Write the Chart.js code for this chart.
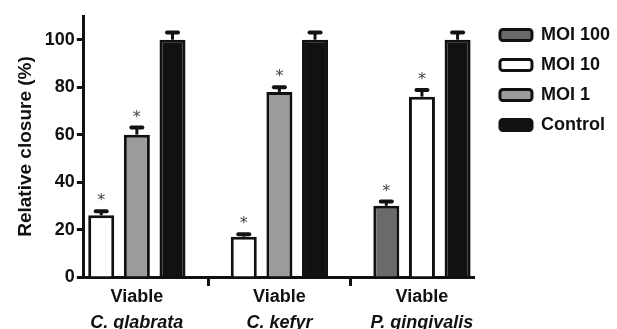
<!DOCTYPE html>
<html>
<head>
<meta charset="utf-8">
<script src="https://cdn.jsdelivr.net/npm/chart.js@4"></script>
<style>
  html, body { margin: 0; padding: 0; background: #fff; }
  #wrap { width: 617px; height: 329px; }
</style>
</head>
<body>
<div id="wrap"><canvas id="chart"></canvas></div>
<script>
// groups on the x axis (two text lines each)
var GROUP_TOP = ["Viable", "Viable", "Viable"];
var GROUP_SPECIES = ["C. glabrata", "C. kefyr", "P. gingivalis"];

// series values (relative closure, %)
var SERIES = ["MOI 100", "MOI 10", "MOI 1", "Control"];
var moi100 = [null, null, 30];
var moi10 = [26, 17, 76];
var moi1 = [60, 78, null];
var control = [100, 100, 100];

// error bars (SEM, up only)
var moi100Err = [null, null, 1.8];
var moi10Err = [1.7, 1, 2.8];
var moi1Err = [3, 2, null];
var controlErr = [3, 3, 3];

// significance stars
var moi100Sig = [false, false, true];
var moi10Sig = [true, true, true];
var moi1Sig = [true, true, false];
var controlSig = [false, false, false];

var Y_TICKS = [0, 20, 40, 60, 80, 100];

var INK = "#111";
var FONT = "'Liberation Sans', Arial, sans-serif";

// tick values: group centres plus separators between groups
var xTicks = [];
GROUP_TOP.forEach(function (g, i) {
	if (i > 0) xTicks.push(i - 0.5);
	xTicks.push(i);
});

function setXTicks(scale) {
	scale.ticks = xTicks.map(function (v) { return { value: v }; });
}

function isGroupTick(c) {
	return !c.tick || Number.isInteger(c.tick.value);
}

var errorBars = {
	id: "errorBars",
	afterDatasetsDraw: function (chart) {
		var ctx = chart.ctx;
		var yScale = chart.scales.y;
		ctx.save();
		chart.data.datasets.forEach(function (ds, di) {
			var meta = chart.getDatasetMeta(di);
			meta.data.forEach(function (bar, i) {
				var v = ds.data[i];
				if (v === null) return;
				var err = ds.errors[i] || 0;
				var yTop = yScale.getPixelForValue(v + err);
				ctx.strokeStyle = INK;
				ctx.lineWidth = 3;
				ctx.beginPath();
				ctx.moveTo(bar.x, bar.y);
				ctx.lineTo(bar.x, yTop);
				ctx.stroke();
				// cap
				ctx.lineWidth = 4;
				ctx.lineCap = "round";
				ctx.beginPath();
				ctx.moveTo(bar.x - 5.5, yTop);
				ctx.lineTo(bar.x + 5.5, yTop);
				ctx.stroke();
				ctx.lineCap = "butt";
				if (ds.sig[i]) {
					ctx.fillStyle = "#444";
					ctx.font = "16px 'DejaVu Sans', sans-serif";
					ctx.textAlign = "center";
					ctx.textBaseline = "middle";
					ctx.fillText("*", bar.x, yTop - 10);
				}
			});
		});
		ctx.restore();
	}
};

// move the legend into the right margin, as in the figure
var legendNudge = {
	id: "legendNudge",
	afterLayout: function (chart) {
		var lg = chart.legend;
		if (!lg) return;
		lg.left += 13;
		lg.right += 13;
		lg.top -= 2;
		lg.bottom -= 2;
	}
};

new Chart(document.getElementById("chart"), {
	type: "bar",
	data: {
		labels: GROUP_TOP.map(function (g, i) { return i; }),
		datasets: [
			{ label: SERIES[0], data: moi100, errors: moi100Err, sig: moi100Sig, backgroundColor: "#6a6a6a" },
			{ label: SERIES[1], data: moi10, errors: moi10Err, sig: moi10Sig, backgroundColor: "#ffffff" },
			{ label: SERIES[2], data: moi1, errors: moi1Err, sig: moi1Sig, backgroundColor: "#9b9b9b" },
			{ label: SERIES[3], data: control, errors: controlErr, sig: controlSig, backgroundColor: INK }
		]
	},
	options: {
		responsive: true,
		maintainAspectRatio: false,
		animation: false,
		layout: { padding: { left: 14, top: 16, right: 10, bottom: 0 } },
		datasets: {
			bar: {
				skipNull: true,
				categoryPercentage: 1.5,
				barPercentage: 0.73,
				borderColor: INK,
				borderWidth: 3,
				borderSkipped: "bottom"
			}
		},
		scales: {
			x: {
				type: "linear",
				offset: false,
				min: -0.372,
				max: 2.372,
				afterBuildTicks: setXTicks,
				afterFit: function (s) { s.height = 27; },
				grid: {
					offset: false,
					drawOnChartArea: false,
					tickLength: 9,
					tickWidth: 3,
					tickColor: function (c) { return isGroupTick(c) ? "rgba(0,0,0,0)" : INK; }
				},
				border: { color: INK, width: 3 },
				ticks: {
					autoSkip: false,
					maxRotation: 0,
					padding: 0,
					color: INK,
					font: { family: FONT, size: 18, weight: "bold" },
					callback: function (v) { return Number.isInteger(v) ? GROUP_TOP[v] : ""; }
				}
			},
			x2: {
				type: "linear",
				position: "bottom",
				axis: "x",
				offset: false,
				min: -0.372,
				max: 2.372,
				afterBuildTicks: setXTicks,
				afterFit: function (s) { s.height = 25; },
				grid: { display: false, offset: false },
				border: { display: false },
				ticks: {
					autoSkip: false,
					maxRotation: 0,
					padding: 0,
					color: INK,
					font: { family: FONT, size: 18, weight: "bold", style: "italic" },
					callback: function (v) { return Number.isInteger(v) ? GROUP_SPECIES[v] : ""; }
				}
			},
			y: {
				min: 0,
				max: 110,
				afterBuildTicks: function (scale) {
					scale.ticks = Y_TICKS.map(function (v) { return { value: v }; });
				},
				grid: { drawOnChartArea: false, tickLength: 7, tickWidth: 3, tickColor: INK },
				border: { color: INK, width: 3 },
				ticks: {
					padding: 2,
					color: INK,
					font: { family: FONT, size: 18, weight: "bold" }
				},
				title: {
					display: true,
					text: "Relative closure (%)",
					color: INK,
					padding: { top: 0, bottom: 6 },
					font: { family: FONT, size: 19, weight: "bold" }
				}
			}
		},
		plugins: {
			legend: {
				position: "right",
				align: "start",
				labels: {
					color: INK,
					font: { family: FONT, size: 18, weight: "bold" },
					boxWidth: 32,
					boxHeight: 11,
					padding: 12,
					useBorderRadius: true,
					borderRadius: 3
				}
			},
			tooltip: { enabled: false }
		}
	},
	plugins: [errorBars, legendNudge]
});
</script>
</body>
</html>
